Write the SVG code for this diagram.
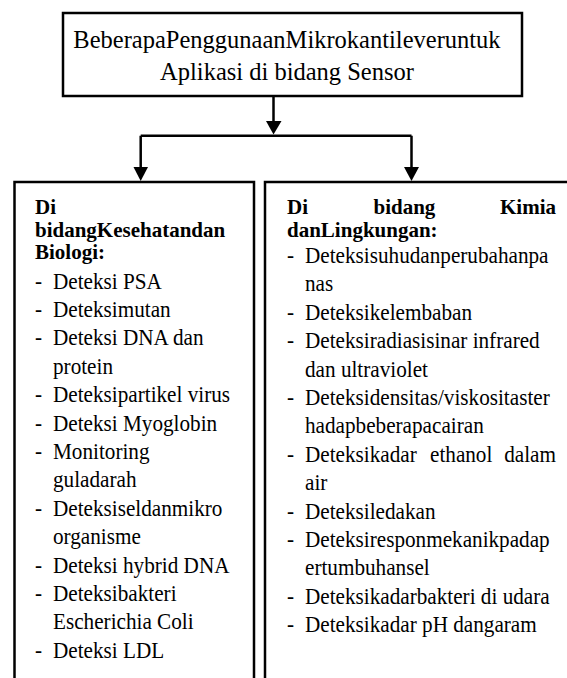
<svg xmlns="http://www.w3.org/2000/svg" width="567" height="678" viewBox="0 0 567 678">
<style>
.box{fill:none;stroke:#000;stroke-width:2.5}
.ln{fill:none;stroke:#000;stroke-width:2.5}
.ah{fill:#000;stroke:none}
text{font-family:"Liberation Serif","Times New Roman",serif;fill:#000}
.t{font-size:24.5px}
.h{font-size:21px;font-weight:bold}
.i{font-size:21.2px}
</style>
<rect width="567" height="678" fill="#fff"/>
<g id="title">
<rect class="box" x="63" y="13" width="459" height="83"/>
<text class="t" x="287" y="48" text-anchor="middle">BeberapaPenggunaanMikrokantileveruntuk</text>
<text class="t" x="287" y="80" text-anchor="middle">Aplikasi di bidang Sensor</text>
</g>
<g id="connectors">
<path class="ln" d="M273.5,96 V122"/>
<polygon class="ah" points="266,121 281.5,121 273.5,134.5"/>
<path class="ln" d="M140.7,135.7 H411.5 M140.7,135.7 V168 M411.5,135.7 V168"/>
<polygon class="ah" points="133.5,167 148,167 140.7,181"/>
<polygon class="ah" points="404,167 419,167 411.5,181"/>
</g>
<g id="kesehatan">
<path class="box" d="M14.5,690 V182 H254 V690"/>
<text class="h" x="35" y="214.3">Di</text>
<text class="h" x="35" y="236.5">bidangKesehatandan</text>
<text class="h" x="35" y="258.5">Biologi:</text>
<text class="i" transform="translate(35,288.5) scale(1,1.08)">-</text><text class="i" transform="translate(53,288.5) scale(1,1.08)">Deteksi PSA</text>
<text class="i" transform="translate(35,316.9) scale(1,1.08)">-</text><text class="i" transform="translate(53,316.9) scale(1,1.08)">Deteksimutan</text>
<text class="i" transform="translate(35,345.3) scale(1,1.08)">-</text><text class="i" transform="translate(53,345.3) scale(1,1.08)">Deteksi DNA dan</text>
<text class="i" transform="translate(53,373.7) scale(1,1.08)">protein</text>
<text class="i" transform="translate(35,402.1) scale(1,1.08)">-</text><text class="i" transform="translate(53,402.1) scale(1,1.08)">Deteksipartikel virus</text>
<text class="i" transform="translate(35,430.5) scale(1,1.08)">-</text><text class="i" transform="translate(53,430.5) scale(1,1.08)">Deteksi Myoglobin</text>
<text class="i" transform="translate(35,458.9) scale(1,1.08)">-</text><text class="i" transform="translate(53,458.9) scale(1,1.08)">Monitoring</text>
<text class="i" transform="translate(53,487.3) scale(1,1.08)">guladarah</text>
<text class="i" transform="translate(35,515.7) scale(1,1.08)">-</text><text class="i" transform="translate(53,515.7) scale(1,1.08)">Deteksiseldanmikro</text>
<text class="i" transform="translate(53,544.1) scale(1,1.08)">organisme</text>
<text class="i" transform="translate(35,572.5) scale(1,1.08)">-</text><text class="i" transform="translate(53,572.5) scale(1,1.08)">Deteksi hybrid DNA</text>
<text class="i" transform="translate(35,600.9) scale(1,1.08)">-</text><text class="i" transform="translate(53,600.9) scale(1,1.08)">Deteksibakteri</text>
<text class="i" transform="translate(53,629.3) scale(1,1.08)">Escherichia Coli</text>
<text class="i" transform="translate(35,657.7) scale(1,1.08)">-</text><text class="i" transform="translate(53,657.7) scale(1,1.08)">Deteksi LDL</text>
</g>
<g id="kimia">
<path class="box" d="M265,690 V182 H570"/>
<text class="h" x="287" y="214.3">Di</text>
<text class="h" x="373.5" y="214.3">bidang</text>
<text class="h" x="556" y="214.3" text-anchor="end">Kimia</text>
<text class="h" x="287" y="236.5">danLingkungan:</text>
<text class="i" transform="translate(287,263) scale(1,1.08)">-</text><text class="i" transform="translate(305,263) scale(1,1.08)">Deteksisuhudanperubahanpa</text>
<text class="i" transform="translate(305,291.4) scale(1,1.08)">nas</text>
<text class="i" transform="translate(287,319.8) scale(1,1.08)">-</text><text class="i" transform="translate(305,319.8) scale(1,1.08)">Deteksikelembaban</text>
<text class="i" transform="translate(287,348.2) scale(1,1.08)">-</text><text class="i" transform="translate(305,348.2) scale(1,1.08)">Deteksiradiasisinar infrared</text>
<text class="i" transform="translate(305,376.6) scale(1,1.08)">dan ultraviolet</text>
<text class="i" transform="translate(287,405) scale(1,1.08)">-</text><text class="i" transform="translate(305,405) scale(1,1.08)">Deteksidensitas/viskositaster</text>
<text class="i" transform="translate(305,433.4) scale(1,1.08)">hadapbeberapacairan</text>
<text class="i" transform="translate(287,461.8) scale(1,1.08)">-</text><text class="i" transform="translate(305,461.8) scale(1,1.08)">Deteksikadar</text>
<text class="i" transform="translate(430,461.8) scale(1,1.08)">ethanol</text>
<text class="i" transform="translate(556,461.8) scale(1,1.08)" text-anchor="end">dalam</text>
<text class="i" transform="translate(305,490.2) scale(1,1.08)">air</text>
<text class="i" transform="translate(287,518.6) scale(1,1.08)">-</text><text class="i" transform="translate(305,518.6) scale(1,1.08)">Deteksiledakan</text>
<text class="i" transform="translate(287,547) scale(1,1.08)">-</text><text class="i" transform="translate(305,547) scale(1,1.08)">Deteksiresponmekanikpadap</text>
<text class="i" transform="translate(305,575.4) scale(1,1.08)">ertumbuhansel</text>
<text class="i" transform="translate(287,603.8) scale(1,1.08)">-</text><text class="i" transform="translate(305,603.8) scale(1,1.08)">Deteksikadarbakteri di udara</text>
<text class="i" transform="translate(287,632.2) scale(1,1.08)">-</text><text class="i" transform="translate(305,632.2) scale(1,1.08)">Deteksikadar pH dangaram</text>
</g>
</svg>
